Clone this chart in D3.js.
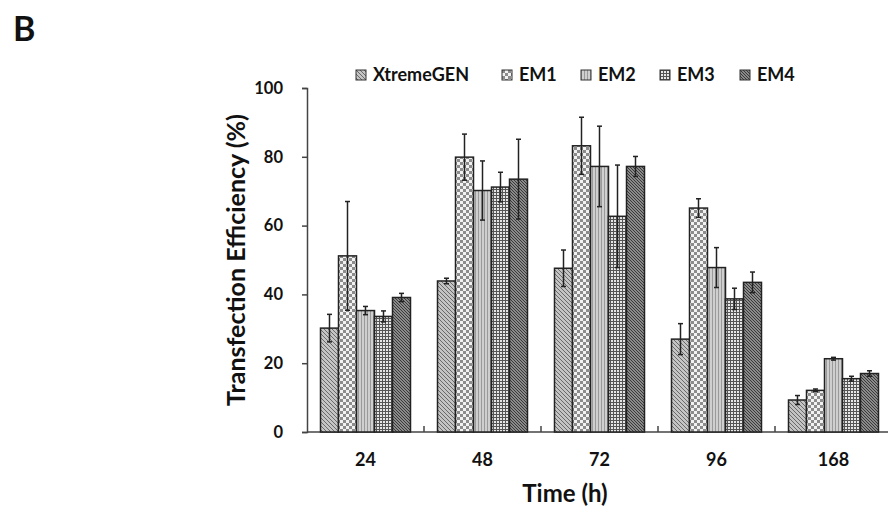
<!DOCTYPE html>
<html lang="en">
<head>
    <meta charset="UTF-8">
    <title>Transfection Efficiency</title>
    <script src="https://d3js.org/d3.v7.min.js"></script>
    <style>
        body {
            margin: 0;
            padding: 0;
            background: #fff;
            font-family: Lato, "Open Sans", sans-serif;
        }
        svg text {
            font-family: Lato, "Open Sans", sans-serif;
            font-weight: bold;
            fill: #111;
        }
        .axis path, .axis line {
            stroke: #444;
            stroke-width: 1.5;
        }
        .bar {
            stroke: #222;
            stroke-width: 1.5;
        }
        .err {
            stroke: #222;
            stroke-width: 1.5;
        }
    </style>
</head>
<body>
    <svg id="chart" width="888" height="512"></svg>

    <script>
        // data
        const times = ['24', '48', '72', '96', '168'];
        const series = ['XtremeGEN', 'EM1', 'EM2', 'EM3', 'EM4'];
        const means = {
            XtremeGEN: [30.2, 43.9, 47.6, 27.0, 9.3],
            EM1:       [51.2, 79.9, 83.2, 65.1, 12.1],
            EM2:       [35.3, 70.2, 77.2, 47.8, 21.3],
            EM3:       [33.6, 71.2, 62.7, 38.7, 15.5],
            EM4:       [39.1, 73.5, 77.2, 43.5, 17.0]
        };
        const errors = {
            XtremeGEN: [4.0, 0.8, 5.3, 4.5, 1.3],
            EM1:       [15.8, 6.7, 8.3, 2.7, 0.4],
            EM2:       [1.2, 8.6, 11.7, 5.8, 0.4],
            EM3:       [1.6, 4.3, 14.9, 3.1, 0.7],
            EM4:       [1.2, 11.6, 2.9, 3.0, 0.8]
        };
        const yTicks = [0, 20, 40, 60, 80, 100];

        const svg = d3.select('#chart');
        const plot = { left: 307, right: 892, top: 88, bottom: 432 };

        // fill patterns, one per series
        const defs = svg.append('defs');

        const diag = (id, bg, fg, gap) => {
            const p = defs.append('pattern').attr('id', id)
                .attr('patternUnits', 'userSpaceOnUse')
                .attr('width', gap).attr('height', gap);
            p.append('rect').attr('width', gap).attr('height', gap).attr('fill', bg);
            p.append('path')
                .attr('d', `M0,0 L${gap},${gap} M${-gap},0 L${gap},${2 * gap} M0,${-gap} L${2 * gap},${gap}`)
                .attr('stroke', fg).attr('stroke-width', 1);
        };
        diag('p-XtremeGEN', '#c4c4c4', '#6a6a6a', 4);
        diag('p-EM4', '#8a8a8a', '#3a3a3a', 3);

        const chk = defs.append('pattern').attr('id', 'p-EM1')
            .attr('patternUnits', 'userSpaceOnUse').attr('width', 6).attr('height', 6);
        chk.append('rect').attr('width', 6).attr('height', 6).attr('fill', '#f2f2f2');
        chk.append('rect').attr('width', 3).attr('height', 3).attr('fill', '#8c8c8c');
        chk.append('rect').attr('x', 3).attr('y', 3).attr('width', 3).attr('height', 3).attr('fill', '#8c8c8c');

        const vert = defs.append('pattern').attr('id', 'p-EM2')
            .attr('patternUnits', 'userSpaceOnUse').attr('width', 3).attr('height', 3);
        vert.append('rect').attr('width', 3).attr('height', 3).attr('fill', '#cfcfcf');
        vert.append('rect').attr('width', 1).attr('height', 3).attr('fill', '#9a9a9a');

        const grid = defs.append('pattern').attr('id', 'p-EM3')
            .attr('patternUnits', 'userSpaceOnUse').attr('width', 3).attr('height', 3);
        grid.append('rect').attr('width', 3).attr('height', 3).attr('fill', '#e6e6e6');
        grid.append('rect').attr('width', 1).attr('height', 3).attr('fill', '#555');
        grid.append('rect').attr('width', 3).attr('height', 1).attr('fill', '#555');

        // scales
        const x0 = d3.scaleBand().domain(times).range([plot.left, plot.right]);
        const x1 = d3.scaleBand().domain(series)
            .range([13.5, x0.bandwidth() - 13.5]);
        const y = d3.scaleLinear().domain([0, 100]).range([plot.bottom, plot.top]);

        // axes
        svg.append('g').attr('class', 'axis')
            .attr('transform', `translate(${plot.left},0)`)
            .call(d3.axisLeft(y).tickValues(yTicks).tickSize(5).tickPadding(19))
            .call(g => g.selectAll('text').style('font-size', '16.5px'));

        const xAxis = svg.append('g').attr('class', 'axis')
            .attr('transform', `translate(0,${plot.bottom})`);
        xAxis.append('line')
            .attr('x1', plot.left).attr('x2', plot.right)
            .attr('y1', 0).attr('y2', 0);
        xAxis.selectAll('.tk').data(times.slice(1)).enter()
            .append('line').attr('class', 'tk')
            .attr('x1', d => x0(d)).attr('x2', d => x0(d))
            .attr('y1', 0).attr('y2', -6);
        xAxis.selectAll('.lbl').data(times).enter()
            .append('text').attr('class', 'lbl')
            .attr('x', d => x0(d) + x0.bandwidth() / 2)
            .attr('y', 34)
            .attr('text-anchor', 'middle')
            .style('font-size', '18px')
            .text(d => d);

        // bars
        const groups = svg.append('g').selectAll('g')
            .data(times).enter().append('g')
            .attr('transform', d => `translate(${x0(d)},0)`);

        groups.selectAll('rect')
            .data((t, i) => series.map(s => ({ s, v: means[s][i], e: errors[s][i] })))
            .enter().append('rect')
            .attr('class', 'bar')
            .attr('x', d => x1(d.s))
            .attr('width', x1.bandwidth())
            .attr('y', d => y(d.v))
            .attr('height', d => y(0) - y(d.v))
            .attr('fill', d => `url(#p-${d.s})`);

        // error bars
        const errG = groups.selectAll('g.errbar')
            .data((t, i) => series.map(s => ({ s, v: means[s][i], e: errors[s][i] })))
            .enter().append('g').attr('class', 'errbar');
        const cx = d => x1(d.s) + x1.bandwidth() / 2;
        errG.append('line').attr('class', 'err')
            .attr('x1', cx).attr('x2', cx)
            .attr('y1', d => y(d.v - d.e)).attr('y2', d => y(d.v + d.e));
        errG.append('line').attr('class', 'err')
            .attr('x1', d => cx(d) - 2.5).attr('x2', d => cx(d) + 2.5)
            .attr('y1', d => y(d.v + d.e)).attr('y2', d => y(d.v + d.e));
        errG.append('line').attr('class', 'err')
            .attr('x1', d => cx(d) - 2.5).attr('x2', d => cx(d) + 2.5)
            .attr('y1', d => y(d.v - d.e)).attr('y2', d => y(d.v - d.e));

        // titles
        svg.append('text')
            .attr('transform', `translate(245,${(plot.top + plot.bottom) / 2}) rotate(-90)`)
            .attr('text-anchor', 'middle')
            .style('font-size', '25px')
            .text('Transfection Efficiency (%)');

        svg.append('text')
            .attr('x', 565).attr('y', 502)
            .attr('text-anchor', 'middle')
            .style('font-size', '24px')
            .text('Time (h)');

        svg.append('text')
            .attr('x', 13).attr('y', 41)
            .style('font-size', '34px')
            .text('B');

        // legend
        const legendX = [356, 502, 581, 660, 740];
        const leg = svg.append('g').selectAll('g')
            .data(series).enter().append('g')
            .attr('transform', (d, i) => `translate(${legendX[i]},70)`);
        leg.append('rect')
            .attr('width', 10).attr('height', 10)
            .attr('fill', d => `url(#p-${d})`)
            .attr('stroke', '#333').attr('stroke-width', 1);
        leg.append('text')
            .attr('x', 17).attr('y', 10.5)
            .style('font-size', '18px')
            .text(d => d);
    </script>
</body>
</html>
